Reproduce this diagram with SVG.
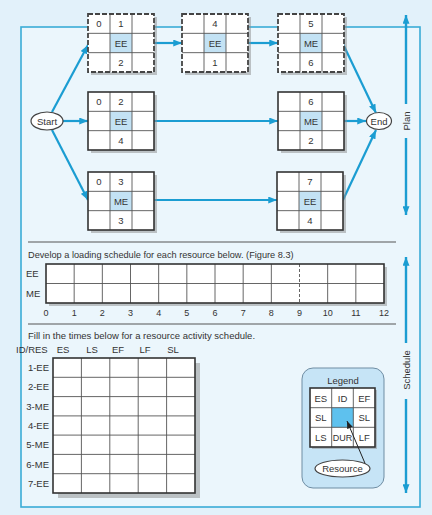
<svg xmlns="http://www.w3.org/2000/svg" xmlns:xlink="http://www.w3.org/1999/xlink" width="432" height="515" viewBox="0 0 432 515">
<style>
  text { font-family: "Liberation Sans", Arial, sans-serif; fill: #333; }
  .nt { font-size: 9.5px; text-anchor: middle; }
  .cell { fill: #ffffff; }
  .hl { fill: #c3e2f4; }
  .shadow { fill: #8c8c8c; opacity: 0.5; }
  .grid { fill: none; stroke: #555; stroke-width: 0.9; }
  .solid { fill: none; stroke: #333; stroke-width: 1.6; }
  .dash { fill: none; stroke: #444; stroke-width: 1.8; stroke-dasharray: 5 2; }
  .conn { fill: none; stroke: #1b9dd2; stroke-width: 2.2; }
  .frame { fill: none; stroke: #3aacd6; stroke-width: 1.6; }
  .sep { stroke: #555; stroke-width: 1; }
  .oval { fill: #ffffff; stroke: #444; stroke-width: 1.2; }
  .side { stroke: #1b9dd2; stroke-width: 2.4; fill: none; }
  .lbl { font-size: 9.5px; }
  .ax { font-size: 9px; text-anchor: middle; }
</style>
<defs>
  <marker id="arr" viewBox="0 0 10 8" refX="10" refY="4" markerWidth="9" markerHeight="7" markerUnits="userSpaceOnUse" orient="auto">
    <path d="M0,0 L10,4 L0,8 z" fill="#1b9dd2"/>
  </marker>
  <marker id="arrD" viewBox="0 0 10 8" refX="10" refY="4" markerWidth="8" markerHeight="6" markerUnits="userSpaceOnUse" orient="auto">
    <path d="M0,0 L10,4 L0,8 z" fill="#222"/>
  </marker>
  <g id="nodeBase">
    <rect class="shadow" x="3" y="3" width="66" height="58"/>
    <rect class="cell" width="66" height="58"/>
    <rect class="hl" x="22" y="19.33" width="22" height="19.33"/>
    <path class="grid" d="M22,0V58M44,0V58M0,19.33H66M0,38.67H66"/>
  </g>
  <g id="solidNode">
    <use xlink:href="#nodeBase"/>
    <rect class="solid" width="66" height="58"/>
  </g>
  <g id="dashedNode">
    <use xlink:href="#nodeBase"/>
    <rect class="dash" width="66" height="58"/>
  </g>
</defs>

<rect width="432" height="515" fill="#e2f1fa"/>
<rect x="21" y="27" width="399" height="480" fill="#ebf6fc"/>
<rect class="frame" x="21" y="27" width="399" height="480"/>

<g id="connectors">
  <line class="conn" x1="52" y1="112" x2="88" y2="45" marker-end="url(#arr)"/>
  <line class="conn" x1="63" y1="121" x2="88" y2="121" marker-end="url(#arr)"/>
  <line class="conn" x1="52" y1="130" x2="88" y2="200" marker-end="url(#arr)"/>
  <line class="conn" x1="154" y1="43" x2="182" y2="43" marker-end="url(#arr)"/>
  <line class="conn" x1="248" y1="43" x2="278" y2="43" marker-end="url(#arr)"/>
  <line class="conn" x1="154" y1="121" x2="278" y2="121" marker-end="url(#arr)"/>
  <line class="conn" x1="154" y1="200" x2="277" y2="200" marker-end="url(#arr)"/>
  <line class="conn" x1="343" y1="44" x2="376" y2="113" marker-end="url(#arr)"/>
  <line class="conn" x1="343" y1="121" x2="366" y2="121" marker-end="url(#arr)"/>
  <line class="conn" x1="343" y1="200" x2="376" y2="130" marker-end="url(#arr)"/>
</g>

<g id="start">
  <ellipse class="oval" cx="47" cy="121" rx="16" ry="9"/>
  <text class="nt" x="47" y="124.5">Start</text>
</g>
<g id="end">
  <ellipse class="oval" cx="379" cy="121" rx="12.5" ry="8.5"/>
  <text class="nt" x="379" y="124.5">End</text>
</g>

<g id="node-1" transform="translate(88,14)">
  <use xlink:href="#dashedNode"/>
  <text class="nt" x="11" y="13">0</text><text class="nt" x="33" y="13">1</text>
  <text class="nt" x="33" y="32.5">EE</text><text class="nt" x="33" y="52">2</text>
</g>
<g id="node-4" transform="translate(182,14)">
  <use xlink:href="#dashedNode"/>
  <text class="nt" x="33" y="13">4</text>
  <text class="nt" x="33" y="32.5">EE</text><text class="nt" x="33" y="52">1</text>
</g>
<g id="node-5" transform="translate(278,14)">
  <use xlink:href="#dashedNode"/>
  <text class="nt" x="33" y="13">5</text>
  <text class="nt" x="33" y="32.5">ME</text><text class="nt" x="33" y="52">6</text>
</g>
<g id="node-2" transform="translate(88,92)">
  <use xlink:href="#solidNode"/>
  <text class="nt" x="11" y="13">0</text><text class="nt" x="33" y="13">2</text>
  <text class="nt" x="33" y="32.5">EE</text><text class="nt" x="33" y="52">4</text>
</g>
<g id="node-6" transform="translate(278,92)">
  <use xlink:href="#solidNode"/>
  <text class="nt" x="33" y="13">6</text>
  <text class="nt" x="33" y="32.5">ME</text><text class="nt" x="33" y="52">2</text>
</g>
<g id="node-3" transform="translate(88,172)">
  <use xlink:href="#solidNode"/>
  <text class="nt" x="11" y="13">0</text><text class="nt" x="33" y="13">3</text>
  <text class="nt" x="33" y="32.5">ME</text><text class="nt" x="33" y="52">3</text>
</g>
<g id="node-7" transform="translate(277,172)">
  <use xlink:href="#solidNode"/>
  <text class="nt" x="33" y="13">7</text>
  <text class="nt" x="33" y="32.5">EE</text><text class="nt" x="33" y="52">4</text>
</g>

<g id="side-labels">
  <line class="side" x1="406" y1="104" x2="406" y2="15" marker-end="url(#arr)"/>
  <text class="nt" transform="translate(409.5,121) rotate(-90)">Plan</text>
  <line class="side" x1="406" y1="138" x2="406" y2="215" marker-end="url(#arr)"/>
  <line class="side" x1="406" y1="343" x2="406" y2="257" marker-end="url(#arr)"/>
  <text class="nt" transform="translate(409.5,370) rotate(-90)">Schedule</text>
  <line class="side" x1="406" y1="399" x2="406" y2="493" marker-end="url(#arr)"/>
</g>

<line class="sep" x1="28" y1="242" x2="396" y2="242"/>
<line class="sep" x1="28" y1="324" x2="396" y2="324"/>

<g id="loading-schedule">
  <text class="lbl" x="28" y="258" style="font-size:9.2px">Develop a loading schedule for each resource below. (Figure 8.3)</text>
  <rect class="shadow" x="49" y="267" width="338" height="39"/>
  <rect class="cell" x="46" y="264" width="338" height="39"/>
  <path class="grid" d="M46,283.5H384M74.17,264V303M102.33,264V303M130.5,264V303M158.67,264V303M186.83,264V303M215,264V303M243.17,264V303M271.33,264V303M327.67,264V303M355.83,264V303"/>
  <line class="grid" x1="299.5" y1="264" x2="299.5" y2="303" stroke-dasharray="3 2"/>
  <rect class="solid" x="46" y="264" width="338" height="39"/>
  <text class="lbl" x="26" y="276.5">EE</text>
  <text class="lbl" x="26" y="296.5">ME</text>
  <text class="ax" x="46" y="315.5">0</text>
  <text class="ax" x="74.17" y="315.5">1</text>
  <text class="ax" x="102.33" y="315.5">2</text>
  <text class="ax" x="130.5" y="315.5">3</text>
  <text class="ax" x="158.67" y="315.5">4</text>
  <text class="ax" x="186.83" y="315.5">5</text>
  <text class="ax" x="215" y="315.5">6</text>
  <text class="ax" x="243.17" y="315.5">7</text>
  <text class="ax" x="271.33" y="315.5">8</text>
  <text class="ax" x="299.5" y="315.5">9</text>
  <text class="ax" x="327.67" y="315.5">10</text>
  <text class="ax" x="355.83" y="315.5">11</text>
  <text class="ax" x="384" y="315.5">12</text>
</g>

<g id="activity-schedule">
  <text class="lbl" x="28" y="338.5">Fill in the times below for a resource activity schedule.</text>
  <text class="lbl" x="16" y="352.5">ID/RES</text>
  <text class="ax" x="63" y="352.5" style="font-size:9.5px">ES</text>
  <text class="ax" x="92" y="352.5" style="font-size:9.5px">LS</text>
  <text class="ax" x="118" y="352.5" style="font-size:9.5px">EF</text>
  <text class="ax" x="145" y="352.5" style="font-size:9.5px">LF</text>
  <text class="ax" x="173" y="352.5" style="font-size:9.5px">SL</text>
  <rect class="shadow" x="58" y="363" width="142" height="135"/>
  <rect class="cell" x="53" y="358" width="142" height="135"/>
  <path class="grid" d="M81.4,358V493M109.8,358V493M138.2,358V493M166.6,358V493M53,377.3H195M53,396.6H195M53,415.9H195M53,435.1H195M53,454.4H195M53,473.7H195"/>
  <rect class="solid" x="53" y="358" width="142" height="135"/>
  <g style="text-anchor:end">
    <text class="lbl" x="49" y="371">1-EE</text>
    <text class="lbl" x="49" y="390.3">2-EE</text>
    <text class="lbl" x="49" y="409.6">3-ME</text>
    <text class="lbl" x="49" y="428.9">4-EE</text>
    <text class="lbl" x="49" y="448.2">5-ME</text>
    <text class="lbl" x="49" y="467.5">6-ME</text>
    <text class="lbl" x="49" y="486.8">7-EE</text>
  </g>
</g>

<g id="legend">
  <rect x="302" y="368" width="82" height="120" rx="11" fill="#c6e4f6" stroke="#6f8da3" stroke-width="1"/>
  <text class="nt" x="343" y="383.5">Legend</text>
  <rect class="shadow" x="312" y="390" width="65" height="59"/>
  <rect class="cell" x="310" y="388" width="65" height="59"/>
  <rect x="331.7" y="407.7" width="21.7" height="19.7" fill="#5ec1ee"/>
  <path class="grid" d="M331.7,388V447M353.3,388V447M310,407.7H375M310,427.3H375"/>
  <rect class="solid" x="310" y="388" width="65" height="59"/>
  <text class="nt" x="320.8" y="401.5">ES</text>
  <text class="nt" x="342.5" y="401.5">ID</text>
  <text class="nt" x="364.2" y="401.5">EF</text>
  <text class="nt" x="320.8" y="421">SL</text>
  <text class="nt" x="364.2" y="421">SL</text>
  <text class="nt" x="320.8" y="440.8">LS</text>
  <text class="nt" x="342.5" y="440.8" style="font-size:9px">DUR</text>
  <text class="nt" x="364.2" y="440.8">LF</text>
  <line x1="367" y1="468" x2="347" y2="421" stroke="#222" stroke-width="1" marker-end="url(#arrD)"/>
  <ellipse class="oval" cx="342.5" cy="468.5" rx="27.5" ry="8.5"/>
  <text class="nt" x="342.5" y="471.8">Resource</text>
</g>
</svg>
